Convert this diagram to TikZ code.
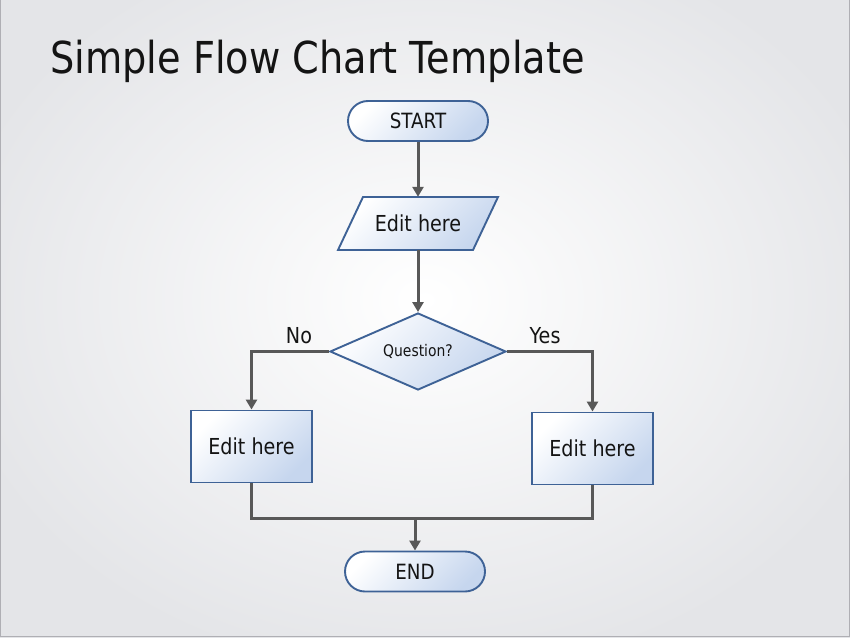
\documentclass[tikz,border=0pt]{standalone}
\usepackage{fontspec}
\setmainfont{DejaVu Sans}[FakeStretch=0.87]
\usetikzlibrary{shapes.geometric,arrows.meta}
\definecolor{edgeblue}{RGB}{62,98,150}
\definecolor{fillblue}{RGB}{198,214,238}
\definecolor{arrgray}{RGB}{88,88,88}
\definecolor{bgout}{RGB}{228,229,232}
\definecolor{txt}{RGB}{20,20,20}
\tikzset{
  shapefill/.style={draw=edgeblue, line width=1.9pt, shading=axis, left color=white, right color=fillblue, shading angle=45, text=txt, font=\fontsize{22}{24}\selectfont, inner sep=0pt},
  terminal/.style={shapefill, rectangle, rounded corners=20pt, minimum width=140pt, minimum height=40pt, font=\fontsize{21}{23}\selectfont},
  iotext/.style={text=txt, font=\fontsize{22}{24}\selectfont, inner sep=0pt, minimum width=135pt, minimum height=53pt},
  decision/.style={shapefill, diamond, aspect=2.29, minimum width=176pt, minimum height=77pt, font=\fontsize{16}{18}\selectfont},
  process/.style={shapefill, rectangle, minimum width=121pt, minimum height=72pt},
  arr/.style={draw=arrgray, line width=3pt, -{Triangle[length=10pt,width=11pt]}},
  conn/.style={draw=arrgray, line width=3pt},
  lbl/.style={text=txt, font=\fontsize{22}{24}\selectfont, inner sep=0pt},
}
\begin{document}
\begin{tikzpicture}[x=1pt,y=-1pt]
\useasboundingbox (0,0) rectangle (850,637);
\shade[inner color=white, outer color=bgout] (-60,-80) rectangle (910,680);
\draw[draw={rgb,255:red,175;green,175;blue,180}, line width=1pt] (0.5,0) -- (0.5,636.5) -- (849.5,636.5) -- (849.5,0);
\node[anchor=base west, inner sep=0pt, text=txt, font=\fontsize{44}{46}\selectfont] (title) at (50,73) {Simple Flow Chart Template};
\node[terminal] (start) at (418,121) {START};
\coordinate (ic) at (418,223.5);
\path[shapefill] (ic) ++(-55,-26.5) -- ++(135,0) -- ++(-25,53) -- ++(-135,0) -- cycle;
\node[iotext] (input) at (ic) {Edit here};
\node[decision] (q) at (418,351.5) {Question?};
\node[process] (lbox) at (251.5,446.5) {Edit here};
\node[process] (rbox) at (592.5,448.5) {Edit here};
\node[terminal] (end) at (415,571.5) {END};
\coordinate (j) at (415,518);
\draw[arr] (start) -- (input);
\draw[arr] (input) -- (q);
\draw[arr] (q.west) -| (lbox.north);
\draw[arr] (q.east) -| (rbox.north);
\draw[conn] (lbox.south) |- (j) -| (rbox.south);
\draw[arr] (j) -- (end);
\node[lbl] (no) at (299,336) {No};
\node[lbl] (yes) at (545,336) {Yes};
\end{tikzpicture}
\end{document}
